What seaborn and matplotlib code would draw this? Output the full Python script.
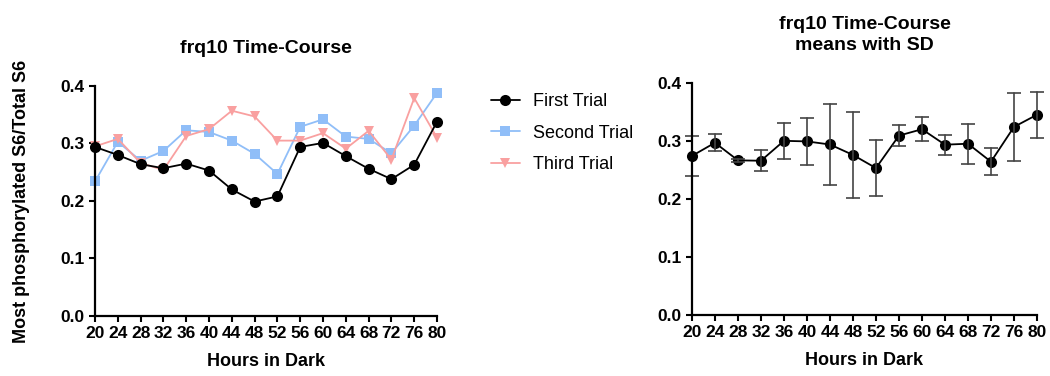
import numpy as np
import pandas as pd
import seaborn as sns
import matplotlib
matplotlib.use("Agg")
import matplotlib.pyplot as plt

hours = [20, 24, 28, 32, 36, 40, 44, 48, 52, 56, 60, 64, 68, 72, 76, 80]
first_trial = [0.294, 0.280, 0.264, 0.257, 0.265, 0.253, 0.220, 0.199, 0.208,
               0.294, 0.301, 0.278, 0.256, 0.238, 0.263, 0.338]
second_trial = [0.234, 0.303, 0.270, 0.287, 0.323, 0.320, 0.305, 0.282, 0.247,
                0.329, 0.342, 0.312, 0.308, 0.283, 0.331, 0.388]
third_trial = [0.295, 0.308, 0.266, 0.254, 0.313, 0.325, 0.357, 0.347, 0.305,
               0.305, 0.318, 0.291, 0.322, 0.272, 0.379, 0.310]
trial_names = ["First Trial", "Second Trial", "Third Trial"]
y_ticks = [0.0, 0.1, 0.2, 0.3, 0.4]
left_title = "frq10 Time-Course"
right_title = "frq10 Time-Course\nmeans with SD"
x_label = "Hours in Dark"
y_label = "Most phosphorylated S6/Total S6"

series = [first_trial, second_trial, third_trial]
df = pd.concat([pd.DataFrame({"Hours": hours, "Value": v, "Trial": n})
                for v, n in zip(series, trial_names)], ignore_index=True)

sns.set_theme(style="ticks")
plt.rcParams["font.family"] = ["Liberation Sans", "DejaVu Sans"]
for k in ("text.color", "axes.labelcolor", "xtick.color", "ytick.color", "axes.edgecolor"):
    plt.rcParams[k] = "black"

fig = plt.figure(figsize=(10.5, 3.76), dpi=100)
ax1 = fig.add_axes([0.0905, 0.1596, 0.3257, 0.6117])
ax2 = fig.add_axes([0.659, 0.1622, 0.3286, 0.617])

styles = {
    "First Trial": dict(color="black", marker="o", markersize=8, linewidth=1.3),
    "Second Trial": dict(color="#90BEF8", marker="s", markersize=7, linewidth=1.3),
    "Third Trial": dict(color="#F9A0A0", marker="v", markersize=7.5, linewidth=1.3),
}
for name in trial_names:
    st = styles[name]
    sns.lineplot(data=df[df["Trial"] == name], x="Hours", y="Value", ax=ax1,
                 color=st["color"], marker=st["marker"], markersize=st["markersize"],
                 linewidth=st["linewidth"], markeredgewidth=0, label=name,
                 clip_on=False, zorder=3 if name == "First Trial" else 2)

sns.lineplot(data=df, x="Hours", y="Value", ax=ax2, errorbar="sd",
             err_style="bars", color="black", marker="o", markersize=8,
             markeredgewidth=0, linewidth=1.3,
             err_kws=dict(capsize=5, elinewidth=1.2, capthick=1.2, ecolor="#444444"))

for ax in (ax1, ax2):
    ax.set_xlim(20, 80)
    ax.set_ylim(0, 0.4)
    ax.set_xticks(hours)
    ax.set_yticks(y_ticks)
    ax.set_yticklabels([f"{t:.1f}" for t in y_ticks])
    ax.tick_params(axis="both", width=1.5, length=4.5, labelsize=12.5, pad=3,
                   color="black", labelcolor="black")
    for lab in ax.get_xticklabels() + ax.get_yticklabels():
        lab.set_fontweight("bold")
    for s in ("left", "bottom"):
        ax.spines[s].set_linewidth(1.6)
        ax.spines[s].set_color("black")
    sns.despine(ax=ax)
    ax.set_xlabel(x_label, fontsize=13, fontweight="bold", labelpad=8)
    for ch in ax.get_children():
        if isinstance(ch, (matplotlib.lines.Line2D, matplotlib.collections.LineCollection)):
            ch.set_clip_on(False)

ax1.set_ylabel(y_label, fontsize=13, fontweight="bold", labelpad=22)
ax2.set_ylabel("")
ax1.set_title(left_title, fontsize=14, fontweight="bold", pad=24)
ax2.set_title(right_title, fontsize=14, fontweight="bold", pad=24, linespacing=1.3)

handles, labels = ax1.get_legend_handles_labels()
ax1.get_legend().remove()
if ax2.get_legend() is not None:
    ax2.get_legend().remove()
fig.legend(handles, labels, loc="upper left", bbox_to_anchor=(0.452, 0.795),
           frameon=False, fontsize=13, labelspacing=0.8, handlelength=1.6,
           handletextpad=0.75)

fig.savefig("out.png", dpi=100)
